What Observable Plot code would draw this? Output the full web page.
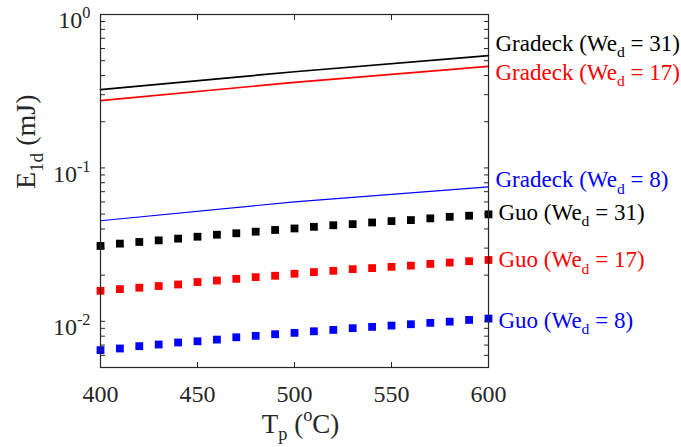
<!DOCTYPE html>
<html><head><meta charset="utf-8">
<script src="https://cdn.jsdelivr.net/npm/d3@7"></script>
<script src="https://cdn.jsdelivr.net/npm/@observablehq/plot@0.6"></script>
<style>
body{margin:0;background:#fff}
#chart svg, #chart svg text, #chart svg tspan { font-family: 'Liberation Serif', 'Times New Roman', serif !important; }
</style>
</head><body><div id="chart"></div>
<script>
// Data
const tempGuo = [400,410,420,430,440,450,460,470,480,490,500,510,520,530,540,550,560,570,580,590,600];
const guo31 = [0.0310,0.0321,0.0329,0.0337,0.0346,0.0356,0.0367,0.0375,0.0384,0.0394,0.0403,0.0413,0.0423,0.0430,0.0441,0.0450,0.0457,0.0469,0.0480,0.0488,0.0498];
const guo17 = [0.01581,0.01622,0.01656,0.01698,0.01738,0.01803,0.01845,0.01892,0.01941,0.01982,0.02042,0.02094,0.02133,0.02188,0.02223,0.02265,0.02307,0.02366,0.02415,0.02466,0.02512];
const guo8 = [0.00649,0.00665,0.00689,0.00706,0.00728,0.00741,0.00760,0.00787,0.00804,0.00824,0.00841,0.00861,0.00879,0.00902,0.00920,0.00938,0.00957,0.00977,0.00995,0.01021,0.01042];
const tempGradeck = [400,500,600];
const gradeck31 = [0.3236,0.4236,0.540];
const gradeck17 = [0.2746,0.3609,0.4584];
const gradeck8 = [0.0452,0.0601,0.0752];

const labelGradeck31 = "Gradeck (We_{d} = 31)";
const labelGradeck17 = "Gradeck (We_{d} = 17)";
const labelGradeck8 = "Gradeck (We_{d} = 8)";
const labelGuo31 = "Guo (We_{d} = 31)";
const labelGuo17 = "Guo (We_{d} = 17)";
const labelGuo8 = "Guo (We_{d} = 8)";

const xTicks = [400,450,500,550,600];
const yMajorTicks = [0.01,0.1,1];
const yTickLabels = ["10^{-2}","10^{-1}","10^{0}"];
const xLabel = "T_{p} (^{o}C)";
const yLabel = "E_{1d} (mJ)";

// minor log ticks (2..9 per decade) inside the domain
const yAllTicks = [];
for (const base of [0.001,0.01,0.1]) for (let k = 1; k <= 9; k++) {
  const v = +(base*k).toPrecision(3);
  if (v >= 0.005 && v <= 1) yAllTicks.push(v);
}
yAllTicks.push(1);

const toRows = (xs, ys) => xs.map((x, i) => ({x, y: ys[i]}));
const axisColor = "#262626";
const font = "'Liberation Serif', 'Times New Roman', serif";

const lineSeries = [
  {rows: toRows(tempGradeck, gradeck31), color: "#000000", width: 1.7, label: labelGradeck31, dx: 7, dy: -12},
  {rows: toRows(tempGradeck, gradeck17), color: "#ff0000", width: 1.7, label: labelGradeck17, dx: 7, dy: 6},
  {rows: toRows(tempGradeck, gradeck8), color: "#0000ff", width: 1.1, label: labelGradeck8, dx: 7, dy: -7}
];
const dotSeries = [
  {rows: toRows(tempGuo, guo31), color: "#000000", label: labelGuo31, dx: 10, dy: -2},
  {rows: toRows(tempGuo, guo17), color: "#ff0000", label: labelGuo17, dx: 10, dy: 0},
  {rows: toRows(tempGuo, guo8), color: "#0000ff", label: labelGuo8, dx: 10, dy: 2}
];

const marks = [];
for (const s of lineSeries) {
  marks.push(Plot.line(s.rows, {x: "x", y: "y", stroke: s.color, strokeWidth: s.width}));
}
for (const s of dotSeries) {
  marks.push(Plot.dot(s.rows, {x: "x", y: "y", symbol: "square", r: 4.4, fill: s.color, stroke: "none"}));
}
for (const s of [...lineSeries, ...dotSeries]) {
  marks.push(Plot.text([s.rows[s.rows.length - 1]], {
    x: "x", y: "y", text: () => s.label, textAnchor: "start",
    dx: s.dx, dy: s.dy, fill: s.color, fontSize: 23, fontFamily: font
  }));
}
marks.push(
  Plot.frame({stroke: axisColor, strokeWidth: 1.2}),
  Plot.axisY(yAllTicks, {anchor: "left", tickSize: -5, text: null, label: null, stroke: axisColor}),
  Plot.axisY(yAllTicks, {anchor: "right", tickSize: -5, text: null, label: null, stroke: axisColor}),
  Plot.axisY(yMajorTicks, {anchor: "left", tickSize: 0, tickPadding: 10, label: null, fontSize: 24, fill: axisColor, dy: 6,
    fontFamily: font, tickFormat: d => yTickLabels[yMajorTicks.indexOf(d)]}),
  Plot.axisX(xTicks, {anchor: "bottom", tickSize: -5, text: null, label: null, stroke: axisColor}),
  Plot.axisX(xTicks, {anchor: "top", tickSize: -5, text: null, label: null, stroke: axisColor}),
  Plot.axisX(xTicks, {anchor: "bottom", tickSize: 0, tickPadding: 17, label: null, fontSize: 24, fill: axisColor, fontFamily: font}),
  Plot.text([xLabel], {frameAnchor: "bottom", dy: 65, dx: 6, text: d => d, fontSize: 27, fill: axisColor, fontFamily: font}),
  Plot.text([yLabel], {frameAnchor: "left", dx: -74, dy: -2, rotate: -90, text: d => d, fontSize: 28, fill: axisColor, fontFamily: font})
);

const chart = Plot.plot({
  width: 681, height: 447,
  marginLeft: 100, marginRight: 193, marginTop: 14, marginBottom: 80,
  style: {fontFamily: font, background: "#ffffff", overflow: "visible"},
  x: {domain: [400, 600]},
  y: {type: "log", domain: [0.005, 1]},
  marks
});
document.getElementById("chart").appendChild(chart);

// Rich text: _{..} subscript, ^{..} superscript
function richText(root) {
  root.querySelectorAll("text").forEach(t => {
    const s = t.textContent;
    if (!/[_^]\{/.test(s)) return;
    const fs = parseFloat(getComputedStyle(t).fontSize) || 16;
    while (t.firstChild) t.removeChild(t.firstChild);
    const re = /([_^])\{([^}]*)\}/g;
    let last = 0, m, shift = 0;
    const add = (txt, kind) => {
      const ts = document.createElementNS("http://www.w3.org/2000/svg", "tspan");
      const target = kind === "_" ? 0.28 * fs : kind === "^" ? -0.42 * fs : 0;
      ts.setAttribute("dy", target - shift);
      shift = target;
      if (kind) ts.setAttribute("font-size", 0.68 * fs);
      ts.textContent = txt;
      t.appendChild(ts);
    };
    while ((m = re.exec(s))) {
      if (m.index > last) add(s.slice(last, m.index), null);
      add(m[2], m[1]);
      last = re.lastIndex;
    }
    if (last < s.length) add(s.slice(last), null);
  });
}
richText(chart);
</script>
</body></html>
